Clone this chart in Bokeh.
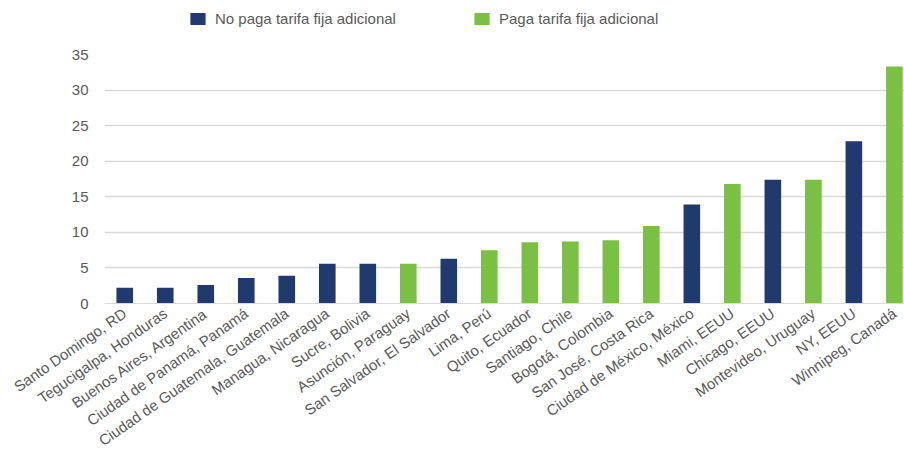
from bokeh.plotting import figure
from bokeh.layouts import column
from bokeh.models import (ColumnDataSource, Range1d, FixedTicker, Legend, LegendItem)
from bokeh.embed import file_html
from bokeh.resources import INLINE
import math

cities = [
    "Santo Domingo, RD", "Tegucigalpa, Honduras", "Buenos Aires, Argentina",
    "Ciudad de Panamá, Panamá", "Ciudad de Guatemala, Guatemala", "Managua, Nicaragua",
    "Sucre, Bolivia", "Asunción, Paraguay", "San Salvador, El Salvador", "Lima, Perú",
    "Quito, Ecuador", "Santiago, Chile", "Bogotá, Colombia", "San José, Costa Rica",
    "Ciudad de México, México", "Miami, EEUU", "Chicago, EEUU", "Montevideo, Uruguay",
    "NY, EEUU", "Winnipeg, Canadá",
]
values = [2.2, 2.2, 2.6, 3.6, 3.9, 5.6, 5.6, 5.6, 6.3, 7.5,
          8.6, 8.7, 8.9, 10.9, 13.9, 16.8, 17.4, 17.4, 22.8, 33.3]
pays_fixed = [False, False, False, False, False, False, False, True, False, True,
              True, True, True, True, False, True, False, True, False, True]
series_labels = ["No paga tarifa fija adicional", "Paga tarifa fija adicional"]
y_ticks = [0, 5, 10, 15, 20, 25, 30, 35]

NAVY = "#203A6E"
GREEN = "#7AC143"
TEXT = "#595959"
FONT = "Liberation Sans"

idx = list(range(len(cities)))
src_no = ColumnDataSource(dict(x=[i for i in idx if not pays_fixed[i]],
                               top=[values[i] for i in idx if not pays_fixed[i]]))
src_yes = ColumnDataSource(dict(x=[i for i in idx if pays_fixed[i]],
                                top=[values[i] for i in idx if pays_fixed[i]]))

x_range = Range1d(-0.5, 19.25)

# ---- legend strip on top (bars fall outside its y range, only the legend shows) ----
lf = figure(width=904, height=44, x_range=x_range, y_range=Range1d(100, 101),
            toolbar_location=None, output_backend="svg", min_border=0,
            min_border_left=104)
lf.outline_line_color = None
lf.axis.visible = False
lf.grid.visible = False
d_no = lf.vbar(x="x", top="top", width=0.41, source=src_no, fill_color=NAVY, line_color=None)
d_yes = lf.vbar(x="x", top="top", width=0.41, source=src_yes, fill_color=GREEN, line_color=None)
for rend, lab, xpos in [(d_no, series_labels[0], 84), (d_yes, series_labels[1], 368)]:
    lg = Legend(items=[LegendItem(label=lab, renderers=[rend])],
                location=(xpos, 17), orientation="horizontal")
    lg.background_fill_alpha = 0
    lg.border_line_color = None
    lg.padding = 0
    lg.margin = 0
    lg.glyph_width = 19
    lg.glyph_height = 15
    lg.label_standoff = 8
    lg.label_height = 15
    lg.label_text_font = FONT
    lg.label_text_font_size = "15px"
    lg.label_text_color = TEXT
    lf.add_layout(lg, "center")

# ---- main chart ----
p = figure(frame_width=800, frame_height=249, output_backend="svg",
           toolbar_location=None, x_range=x_range,
           y_range=Range1d(0, 35), min_border_left=104, min_border_right=0,
           min_border_top=10, min_border_bottom=140)
p.outline_line_color = None
p.background_fill_color = "white"
p.border_fill_color = "white"

p.vbar(x="x", top="top", width=0.41, source=src_no, fill_color=NAVY, line_color=None)
p.vbar(x="x", top="top", width=0.41, source=src_yes, fill_color=GREEN, line_color=None)

p.xgrid.grid_line_color = None
p.ygrid.grid_line_color = "#D9D9D9"
p.ygrid.grid_line_width = 1.5
p.ygrid.ticker = FixedTicker(ticks=y_ticks)

p.yaxis.ticker = FixedTicker(ticks=y_ticks)
p.yaxis.axis_line_color = None
p.yaxis.major_tick_line_color = None
p.yaxis.minor_tick_line_color = None
p.yaxis.major_label_standoff = 10
p.yaxis.major_label_text_font = FONT
p.yaxis.major_label_text_font_size = "15px"
p.yaxis.major_label_text_color = TEXT

p.xaxis.ticker = FixedTicker(ticks=idx)
p.xaxis.major_label_overrides = {i: c for i, c in zip(idx, cities)}
p.xaxis.axis_line_color = "#D9D9D9"
p.xaxis.major_tick_line_color = None
p.xaxis.minor_tick_line_color = None
p.xaxis.major_label_orientation = math.radians(35)
p.xaxis.major_label_standoff = 2
p.xaxis.major_label_text_font = FONT
p.xaxis.major_label_text_font_size = "15px"
p.xaxis.major_label_text_color = TEXT

layout = column(lf, p, spacing=0)
open("out.html", "w").write(file_html(layout, INLINE))
